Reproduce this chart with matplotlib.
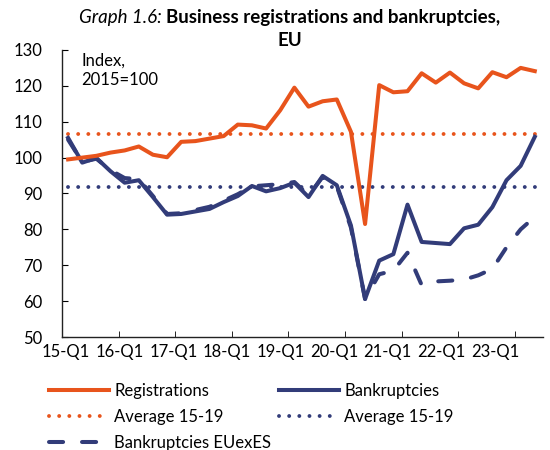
import numpy as np
import matplotlib.pyplot as plt

plt.rcParams['font.family'] = ['Lato', 'DejaVu Sans']

# quarterly data 15-Q1 .. 23-Q2, index 2015=100
quarters = [f"{y}-Q{q}" for y in range(15, 24) for q in range(1, 5)][:34]
registrations = [99.5, 100.0, 100.5, 101.4, 102.0, 103.1, 100.8, 100.1,
                 104.4, 104.6, 105.3, 106.0, 109.2, 109.0, 108.1, 113.2,
                 119.5, 114.2, 115.7, 116.2, 107.2, 81.5, 120.2, 118.2,
                 118.5, 123.5, 120.9, 123.7, 120.7, 119.3, 123.8, 122.4,
                 125.0, 124.1]
bankruptcies = [105.5, 98.6, 99.9, 96.2, 93.0, 93.7, 89.0, 84.1,
                84.3, 85.0, 85.7, 87.6, 89.3, 92.1, 90.6, 91.5,
                93.0, 89.0, 94.9, 92.3, 81.1, 60.6, 71.3, 73.1,
                86.9, 76.5, 76.2, 75.9, 80.3, 81.3, 86.2, 93.7,
                97.7, 105.8]
bankr_exes = [105.0, 98.8, 99.7, 96.5, 94.3, 94.0, 89.3, 84.3,
              84.5, 85.4, 86.3, 88.0, 89.8, 92.0, 92.3, 92.6,
              93.2, 89.5, 94.6, 92.0, 80.5, 60.6, 67.5, 68.5,
              73.5, 64.5, 65.5, 65.7, 66.0, 67.2, 69.0, 75.0,
              80.0, 83.5]
avg_reg = 106.5
avg_bankr = 91.7

orange = '#E8541C'
navy = '#323C79'
x = np.arange(len(quarters))

fig = plt.figure(figsize=(5.5, 4.5), dpi=100)
ax = fig.add_axes([0.113, 0.251, 0.874, 0.638])

lw = 2.9
l_reg, = ax.plot(x, registrations, color=orange, lw=lw, label='Registrations', zorder=4)
l_avg1, = ax.plot([x[0], x[-1]], [avg_reg, avg_reg], color=orange, lw=2.8,
                  linestyle=(0, (0.01, 2.6)), dash_capstyle='round', label='Average 15-19')
l_ex, = ax.plot(x, bankr_exes, color=navy, lw=lw, linestyle=(0, (3.5, 4.7)),
                dash_capstyle='round', label='Bankruptcies EUexES', zorder=3)
l_bk, = ax.plot(x, bankruptcies, color=navy, lw=lw, label='Bankruptcies', zorder=3)
l_avg2, = ax.plot([x[0], x[-1]], [avg_bankr, avg_bankr], color=navy, lw=2.8,
                  linestyle=(0, (0.01, 2.6)), dash_capstyle='round', label='Average 15-19')

ax.set_ylim(50, 130)
ax.set_xlim(-0.42, 33.57)
ax.set_yticks(range(50, 131, 10))
ax.tick_params(axis='y', direction='in', length=4, labelsize=12, pad=14)

# labels and tick marks are not aligned in the original
ax.set_xticks(-0.14 + 3.79 * np.arange(9))
ax.set_xticklabels(quarters[::4])
ax.tick_params(axis='x', length=0, labelsize=12, pad=5)
ax.set_xticks(3.58 + 4 * np.arange(8), minor=True)
ax.tick_params(axis='x', which='minor', direction='in', length=4)

for s in ['top', 'right']:
    ax.spines[s].set_visible(False)
for s in ['left', 'bottom']:
    ax.spines[s].set_linewidth(1.0)
    ax.spines[s].set_color('#222222')

ax.text(0.04, 0.99, 'Index,\n2015=100', transform=ax.transAxes, ha='left', va='top',
        fontsize=12, linespacing=1.25)

leg = fig.legend(handles=[l_reg, l_avg1, l_ex, l_bk, l_avg2], ncol=2,
                 loc='upper left', bbox_to_anchor=(0.062, 0.182), frameon=False,
                 fontsize=12, handlelength=3.6, columnspacing=0.5,
                 labelspacing=0.6, handletextpad=0.3)

# title: italic prefix + bold text
t1 = fig.text(0, 0.95, 'Graph 1.6: ', fontsize=13.5, style='italic', va='baseline')
t2 = fig.text(0, 0.95, 'Business registrations and bankruptcies,', fontsize=13.5,
              weight='bold', va='baseline')
fig.canvas.draw()
r = fig.canvas.get_renderer()
w1 = t1.get_window_extent(r).width / fig.bbox.width
w2 = t2.get_window_extent(r).width / fig.bbox.width
x0 = 290 / 550 - (w1 + w2) / 2
t1.set_x(x0)
t2.set_x(x0 + w1)
fig.text(290 / 550, 0.898, 'EU', fontsize=13.5, weight='bold', ha='center', va='baseline')

fig.savefig('out.png', dpi=100)
